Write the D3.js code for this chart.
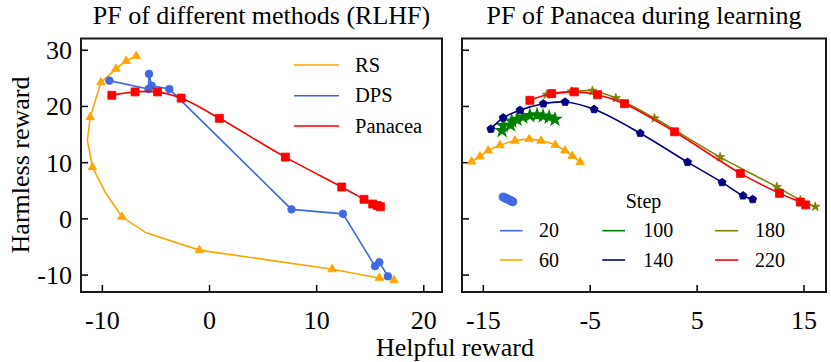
<!DOCTYPE html>
<html><head><meta charset="utf-8">
<script src="https://cdn.jsdelivr.net/npm/d3@7"></script>
<style>body{margin:0;background:#fff}svg{display:block}text{font-family:"Liberation Serif","Times New Roman",serif;fill:#000}</style>
</head><body><svg id="c" width="831" height="362"></svg>
<script>
// ---------- data (left panel: RLHF methods) ----------
const rsX = [-6.8,-7.73,-8.69,-10.09,-11.09,-11.35,-10.88,-9.63,-8.13,-5.87,-0.9,4.8,11.5,15.9,17.27];
const rsY = [28.9,28.0,26.6,24.2,18.0,13.9,9.1,4.46,0.28,-2.57,-5.65,-7.2,-9.06,-10.6,-11.0];
const rsMarked = [1,1,1,1,1,0,1,0,1,0,1,0,1,1,1];
const dpsX = [-9.3,-5.65,-5.6,-5.35,-3.7,7.7,12.5,15.5,15.9,16.7];
const dpsY = [24.5,23.0,25.7,23.6,23.0,1.6,0.8,-8.5,-7.8,-10.3];
const panX = [-9.07,-6.9,-4.81,-2.6,0.97,7.13,12.39,14.47,15.28,15.7,16.0];
const panY = [21.9,22.5,22.5,21.4,17.8,10.9,5.58,3.39,2.55,2.3,2.07];
const methodNames = ["RS","DPS","Panacea"];

// ---------- data (right panel: Panacea during learning) ----------
const steps = ["20","60","100","140","180","220"];
const s20X = [-13.1,-12.9,-12.75,-12.6,-12.45,-12.3,-12.2];
const s20Y = [3.8,3.6,3.5,3.35,3.2,3.05,2.95];
const s60X = [-16.06,-15.28,-14.5,-13.4,-12.0,-10.66,-9.56,-8.22,-7.31,-6.63,-5.9];
const s60Y = [10.1,11.0,12.05,13.0,13.8,14.1,13.8,13.07,12.05,11.1,10.0];
const s100X = [-13.2,-13.1,-12.4,-12.3,-11.8,-11.25,-10.6,-9.93,-9.37,-8.8,-8.25];
const s100Y = [15.6,16.5,16.6,17.3,17.6,18.0,18.3,18.4,18.2,18.0,17.6];
const s140X = [-14.25,-13.1,-11.53,-9.34,-7.31,-4.59,-0.28,4.15,7.38,9.34,10.24];
const s140Y = [15.9,17.9,19.25,20.4,20.7,19.4,15.15,10.0,6.4,4.03,3.38];
const s180X = [-9.03,-6.68,-4.75,-2.56,1.06,7.2,12.5,14.7,16.1];
const s180Y = [22.0,22.6,22.7,21.4,17.8,10.9,5.6,3.26,2.07];
const s220X = [-10.6,-8.56,-6.44,-4.28,-1.75,2.93,9.09,12.75,14.7,15.2];
const s220Y = [21.0,22.2,22.5,22.0,20.4,15.4,8.0,4.45,2.9,2.4];

const leftXTicks = [-10,0,10,20];
const rightXTicks = [-15,-5,5,15];
const yTicks = [-10,0,10,20,30];

// ---------- layout ----------
const svg = d3.select("#c");
const plotTop = 38.5, plotBottom = 292;
const y = d3.scaleLinear().domain([-13.1,32]).range([plotBottom, plotTop]);
const xL = d3.scaleLinear().domain([-11.95,21.75]).range([81,442]);
const xR = d3.scaleLinear().domain([-16.95,17.1]).range([462,826]);

const pentagon = {draw(ctx,size){const r=Math.sqrt(size/2.378);for(let i=0;i<5;i++){const a=-Math.PI/2+i*2*Math.PI/5;const px=r*Math.cos(a),py=r*Math.sin(a);i?ctx.lineTo(px,py):ctx.moveTo(px,py);}ctx.closePath();}};

function panel(x, xt, showYLabels, title){
  const g = svg.append("g");
  const xa = d3.axisBottom(x).tickValues(xt).tickSizeInner(-7).tickSizeOuter(0).tickPadding(19).tickFormat(d=>String(d));
  const gx = g.append("g").attr("transform",`translate(0,${plotBottom})`).call(xa);
  gx.select(".domain").remove();
  gx.selectAll("line").attr("stroke","#000").attr("stroke-width",1.5);
  gx.selectAll("text").style("font-size","26px").attr("fill","#000");
  const ya = d3.axisLeft(y).tickValues(yTicks).tickSizeInner(-7).tickSizeOuter(0).tickPadding(9).tickFormat(d=>showYLabels?String(d):"");
  const gy = g.append("g").attr("transform",`translate(${x.range()[0]},0)`).call(ya);
  gy.select(".domain").remove();
  gy.selectAll("line").attr("stroke","#000").attr("stroke-width",1.5);
  gy.selectAll("text").style("font-size","26px").attr("fill","#000").attr("dy","0.34em");
  g.append("text").attr("x",(x.range()[0]+x.range()[1])/2).attr("y",24).attr("text-anchor","middle").style("font-size","26px").text(title);
  return g;
}
function frame(x){
  svg.append("rect").attr("x",x.range()[0]).attr("y",plotTop).attr("width",x.range()[1]-x.range()[0]).attr("height",plotBottom-plotTop)
    .attr("fill","none").attr("stroke","#1a1a1a").attr("stroke-width",2);
}

function series(g, x, xs, ys, color, symbol, size, opts={}){
  const pts = xs.map((v,i)=>[v,ys[i],i]);
  const line = d3.line().x(d=>x(d[0])).y(d=>y(d[1]));
  if(opts.curve) line.curve(opts.curve);
  g.append("path").attr("d",line(pts)).attr("fill","none").attr("stroke",color).attr("stroke-width",1.6);
  const mk = opts.marked ? pts.filter(d=>opts.marked[d[2]]) : pts;
  g.selectAll(null).data(mk).enter().append("path")
    .attr("d",d3.symbol().type(symbol).size(size))
    .attr("transform",d=>`translate(${x(d[0])},${y(d[1])})`)
    .attr("fill",color).attr("stroke",color).attr("stroke-width",opts.sw||0.8);
}

// left panel
panel(xL, leftXTicks, true, "PF of different methods (RLHF)");
const cl = svg.append("g");
series(cl, xL, rsX, rsY, "#FFA500", d3.symbolTriangle, 32, {marked: rsMarked});
series(cl, xL, dpsX, dpsY, "#4169E1", d3.symbolCircle, 46);
series(cl, xL, panX, panY, "#FF0000", d3.symbolSquare, 64, {curve: d3.curveCatmullRom});
frame(xL);

// left legend
const lcol = ["#FFA500","#4169E1","#FF0000"];
const lyPos = [65,95.7,126];
methodNames.forEach((n,i)=>{
  svg.append("line").attr("x1",294).attr("x2",339).attr("y1",lyPos[i]).attr("y2",lyPos[i]).attr("stroke",lcol[i]).attr("stroke-width",1.6);
  svg.append("text").attr("x",355).attr("y",lyPos[i]).attr("dy","0.33em").style("font-size","20.5px").text(n);
});

// right panel
panel(xR, rightXTicks, false, "PF of Panacea during learning");
const cr = svg.append("g");
const stepColors = ["#4169E1","#FFA500","#008000","#000080","#808000","#FF0000"];
series(cr, xR, s20X, s20Y, stepColors[0], d3.symbolCircle, 52);
series(cr, xR, s60X, s60Y, stepColors[1], d3.symbolTriangle, 32, {curve: d3.curveCatmullRom});
series(cr, xR, s100X, s100Y, stepColors[2], d3.symbolStar, 44, {curve: d3.curveCatmullRom, sw: 1.3});
series(cr, xR, s140X, s140Y, stepColors[3], pentagon, 42, {curve: d3.curveCatmullRom});
series(cr, xR, s180X, s180Y, stepColors[4], d3.symbolStar, 26, {curve: d3.curveCatmullRom});
series(cr, xR, s220X, s220Y, stepColors[5], d3.symbolSquare, 64, {curve: d3.curveCatmullRom});
frame(xR);

// right legend
svg.append("text").attr("x",643.5).attr("y",201.7).attr("dy","0.33em").attr("text-anchor","middle").style("font-size","20px").text("Step");
const colX = [[500,522.7,539],[602.3,625,643.3],[715,738.3,755]];
const rowY = [230.7,260];
steps.forEach((s,i)=>{
  const c = Math.floor(i/2), r = i%2;
  svg.append("line").attr("x1",colX[c][0]).attr("x2",colX[c][1]).attr("y1",rowY[r]).attr("y2",rowY[r]).attr("stroke",stepColors[i]).attr("stroke-width",1.6);
  svg.append("text").attr("x",colX[c][2]).attr("y",rowY[r]).attr("dy","0.33em").style("font-size","20px").text(s);
});

// axis labels
svg.append("text").attr("x",455).attr("y",356).attr("text-anchor","middle").style("font-size","26px").text("Helpful reward");
svg.append("text").attr("transform",`translate(29,165) rotate(-90)`).attr("text-anchor","middle").style("font-size","26px").text("Harmless reward");
</script></body></html>
